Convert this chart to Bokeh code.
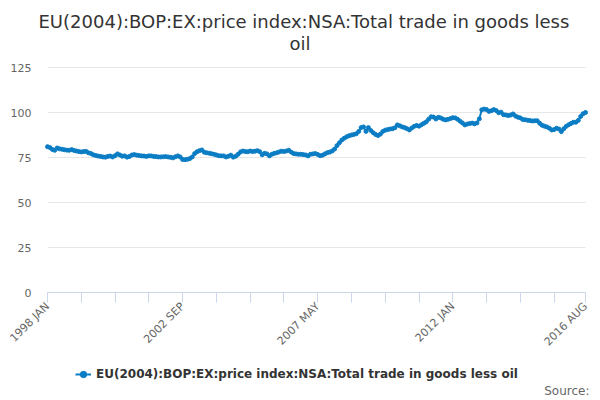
import math
from bokeh.plotting import figure
from bokeh.models import Range1d, FixedTicker, Legend, LegendItem, Title, Label, Grid
from bokeh.embed import file_html
from bokeh.resources import INLINE

series_name = "EU(2004):BOP:EX:price index:NSA:Total trade in goods less oil"
title_lines = ["EU(2004):BOP:EX:price index:NSA:Total trade in goods less", "oil"]
source_text = "Source:"

# monthly values, 1998 JAN .. 2016 AUG
values = [
    81.0, 80.5, 79.5, 79.0, 80.3, 79.8, 79.6, 79.3, 79.1, 79.0, 79.4, 78.9,   # 1998
    78.6, 78.3, 78.1, 78.3, 78.4, 77.6, 77.2, 76.5, 76.1, 75.8, 75.6, 75.3,   # 1999
    75.2, 75.6, 75.8, 75.3, 76.0, 77.0, 76.4, 75.7, 75.9, 75.2, 75.6, 76.4,   # 2000
    76.6, 76.3, 76.1, 75.9, 75.8, 75.6, 75.9, 75.9, 75.6, 75.5, 75.3, 75.3,   # 2001
    75.4, 75.5, 75.3, 75.1, 74.8, 75.4, 75.9, 75.3, 73.9, 73.8, 74.0, 74.4,   # 2002
    75.3, 77.2, 78.2, 78.8, 79.2, 77.9, 77.6, 77.4, 77.1, 76.8, 76.4, 76.0,   # 2003
    75.9, 75.9, 75.3, 75.7, 76.3, 75.2, 75.7, 76.8, 78.1, 78.6, 78.3, 78.2,   # 2004
    78.6, 78.3, 78.5, 78.8, 78.2, 76.5, 77.3, 77.0, 75.9, 76.8, 77.3, 77.6,   # 2005
    78.1, 78.5, 78.3, 78.6, 79.0, 78.0, 77.2, 77.0, 76.8, 76.8, 76.6, 76.4,   # 2006
    75.9, 76.8, 77.0, 77.2, 76.7, 76.0, 76.3, 77.0, 77.7, 78.0, 78.6, 79.7,   # 2007
    81.6, 83.2, 84.7, 85.7, 86.5, 87.1, 87.5, 87.8, 88.2, 89.5, 91.6, 92.0,   # 2008
    89.5, 91.6, 90.0, 88.8, 87.8, 87.2, 88.0, 89.5, 90.2, 90.5, 90.8, 91.0,   # 2009
    91.5, 93.1, 92.6, 92.0, 91.6, 91.0, 90.3, 91.4, 92.3, 92.8, 92.4, 93.2,   # 2010
    94.0, 94.8, 96.3, 97.6, 97.5, 96.4, 97.3, 97.0, 96.3, 95.9, 96.2, 96.6,   # 2011
    97.1, 97.0, 96.2, 95.2, 94.2, 93.1, 93.6, 93.9, 94.1, 93.7, 94.2, 96.5,   # 2012
    101.5, 101.9, 101.6, 100.6, 101.0, 101.6, 101.1, 99.9, 100.2, 98.8, 98.6, 98.3,  # 2013
    98.6, 99.2, 98.0, 97.4, 97.0, 96.1, 96.0, 95.7, 95.5, 95.3, 95.4, 95.4,   # 2014
    94.0, 92.9, 92.4, 92.0, 91.3, 90.3, 90.5, 91.3, 90.8, 89.4, 91.0, 92.3,   # 2015
    93.2, 93.9, 94.6, 94.6, 95.6, 97.8, 99.3, 100.0,                          # 2016
]
x_index = list(range(len(values)))

tick_positions = [0, 14, 28, 42, 56, 70, 84, 98, 112, 126, 140, 154, 168, 182, 196, 210, 223]
tick_labels = {0: "1998 JAN", 56: "2002 SEP", 112: "2007 MAY", 168: "2012 JAN", 223: "2016 AUG"}
y_ticks = [0, 25, 50, 75, 100, 125]

FONT = "DejaVu Sans"
LINE_COLOR = "#0b7dc4"

n_last = len(values) - 1
# plotting area: months 0..n_last over 538 px, values 0..125 over 225 px;
# the frame is widened so the axes' labels, legend and note fit inside it
PX_PER_X = 538.0 / n_last
PX_PER_Y = 225 / 125.0
x_left = -47 / PX_PER_X
x_right = n_last + 15 / PX_PER_X
y_top = 125 + 14 / PX_PER_Y
y_bottom = -108 / PX_PER_Y

p = figure(frame_width=600, frame_height=347, output_backend="svg", toolbar_location=None,
           x_range=Range1d(x_left, x_right), y_range=Range1d(y_bottom, y_top),
           min_border_left=0, min_border_right=0, min_border_top=53, min_border_bottom=0)
p.outline_line_color = None
p.background_fill_color = "white"
p.border_fill_color = "white"

# titles (first added is nearest to the plot)
t2 = Title(text=title_lines[1], align="left", offset=289, standoff=0,
           text_font=FONT, text_font_size="18px", text_font_style="normal",
           text_color="#333333")
t1 = Title(text=title_lines[0], align="left", offset=38, standoff=-2,
           text_font=FONT, text_font_size="18px", text_font_style="normal",
           text_color="#333333")
p.add_layout(t2, "above")
p.add_layout(t1, "above")

p.xgrid.grid_line_color = None
yg = p.ygrid[0]
yg.grid_line_color = "#e6e6e6"
yg.ticker = FixedTicker(ticks=y_ticks)
yg.bounds = (0, 125)
if "cross_bounds" in Grid.properties():
    yg.cross_bounds = (0, n_last)

ya = p.yaxis[0]
ya.fixed_location = 0
ya.bounds = (0, 125)
ya.ticker = FixedTicker(ticks=y_ticks)
ya.axis_line_color = None
ya.major_tick_line_color = None
ya.major_tick_out = 0
ya.major_tick_in = 0
ya.minor_tick_line_color = None
ya.major_label_text_font = FONT
ya.major_label_text_font_size = "11px"
ya.major_label_text_color = "#666666"
ya.major_label_standoff = 16

xa = p.xaxis[0]
xa.fixed_location = 0
xa.bounds = (0, n_last)
xa.ticker = FixedTicker(ticks=tick_positions)
xa.major_label_overrides = {t: tick_labels.get(t, "") for t in tick_positions}
xa.axis_line_color = "#ccd6eb"
xa.major_tick_line_color = "#ccd6eb"
xa.major_tick_out = 10
xa.major_tick_in = 0
xa.minor_tick_line_color = None
xa.major_label_orientation = math.pi / 4
xa.major_label_text_font = FONT
xa.major_label_text_font_size = "11px"
xa.major_label_text_color = "#666666"
xa.major_label_standoff = 2

ln = p.line(x_index, values, line_color=LINE_COLOR, line_width=2)
sc = p.scatter(x_index, values, size=4, fill_color=LINE_COLOR, line_color=LINE_COLOR)

legend = Legend(items=[LegendItem(label=series_name, renderers=[ln, sc])],
                location=(75, 16), orientation="horizontal", padding=0, margin=0,
                border_line_color=None, background_fill_alpha=0,
                label_text_font=FONT, label_text_font_size="12px",
                label_text_font_style="bold", label_text_color="#333333",
                glyph_width=16, glyph_height=20, label_standoff=5)
p.add_layout(legend)

p.add_layout(Label(x=n_last + 4 / PX_PER_X, y=-98 / PX_PER_Y, text=source_text,
                   text_align="right", text_baseline="middle", text_font=FONT,
                   text_font_size="12px", text_color="#666666"))

open("out.html", "w").write(file_html(p, INLINE))
